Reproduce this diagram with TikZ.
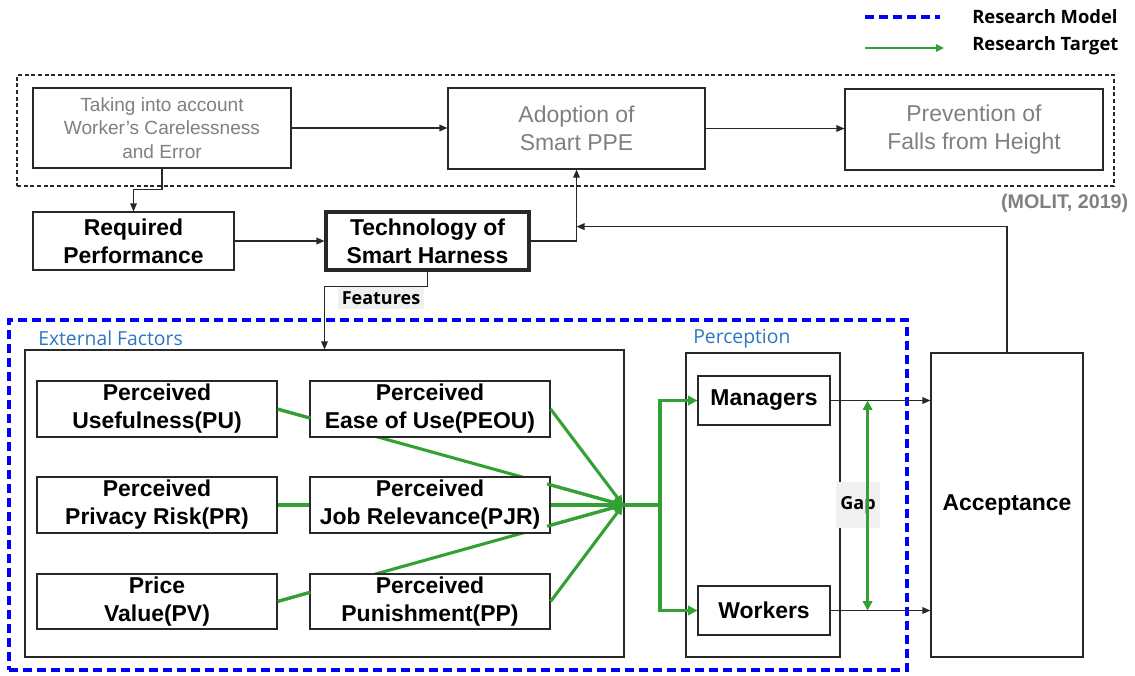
\documentclass[tikz,border=0pt]{standalone}
\usepackage{fontspec}
\setmainfont{Liberation Sans}
\newfontfamily\labfont{Open Sans}
\usetikzlibrary{arrows.meta,fit,calc}
\definecolor{gtext}{RGB}{128,128,128}
\definecolor{lblue}{RGB}{46,117,190}
\definecolor{mblue}{RGB}{0,0,255}
\definecolor{tgreen}{RGB}{50,160,50}
\definecolor{lineblk}{RGB}{40,40,40}
\begin{document}
\begin{tikzpicture}[x=0.75pt,y=-0.75pt,
  box/.style={draw=lineblk, line width=0.9pt, fill=white, inner sep=0pt, align=center},
  sz/.style n args={2}{minimum width=#1*0.75pt, minimum height=#2*0.75pt},
  frame/.style={draw=lineblk, line width=0.8pt, dash pattern=on 3pt off 2pt, inner sep=0pt},
  bluefr/.style={draw=mblue, line width=2.3pt, dash pattern=on 7pt off 3.5pt, inner sep=0pt},
  arr/.style={draw=lineblk, line width=0.9pt, -{Triangle[length=6pt,width=5pt]}},
  gline/.style={draw=tgreen, line width=2.3pt},
  garr/.style={gline, -{Triangle[length=7pt,width=7pt]}},
  bigb/.style={font=\fontsize{17.2}{21}\selectfont\bfseries},
  graysm/.style={font=\fontsize{14.3}{17.4}\selectfont, text=gtext},
  graylg/.style={font=\fontsize{17.2}{21}\selectfont, text=gtext},
  legtxt/.style={font=\labfont\fontsize{13.8}{15}\selectfont\bfseries, inner sep=0pt},
  grouplab/.style={font=\labfont\fontsize{14.5}{16}\selectfont, text=lblue, inner sep=0pt},
  tag/.style={font=\labfont\fontsize{13.5}{15}\selectfont\bfseries, fill=black!6, inner sep=3pt}
]
\useasboundingbox (0,0) rectangle (1135,675);

% legend
\coordinate (lm1) at (865,17);
\coordinate (lm2) at (940,17);
\draw[bluefr] (lm1) -- (lm2);
\node[legtxt, anchor=west] (lmt) at (972,17) {Research Model};
\coordinate (lt1) at (865,48);
\coordinate (lt2) at (944,48);
\draw[draw=tgreen, line width=1.6pt, -{Triangle[length=6pt,width=5.5pt]}] (lt1) -- (lt2);
\node[legtxt, anchor=west] (ltt) at (972,46) {Research Target};

% regulation chain (MOLIT)
\node[frame, fit={(17,75) (1114,186)}] (molitfr) {};
\node[box, graysm, sz={258}{80}] (take) at (162,128) {Taking into account\\Worker’s Carelessness\\and Error};
\node[box, graylg, sz={257}{81}] (adopt) at (576.5,128.5) {Adoption of\\Smart PPE};
\node[box, graylg, sz={258}{81}] (prev) at (974,129.5) {Prevention of\\Falls from Height};
\node[anchor=east, font=\fontsize{14.8}{16}\selectfont\bfseries, text=gtext] (molit) at (1133,203) {(MOLIT, 2019)};

\draw[arr] (take.east) -- (take.east -| adopt.west);
\draw[arr] (adopt.east) -- (adopt.east -| prev.west);

% harness technology
\node[box, bigb, sz={201}{58}] (req) at (133.5,241) {Required\\Performance};
\node[box, bigb, line width=2.3pt, sz={203}{58}] (tech) at (427.5,241) {Technology of\\Smart Harness};
\draw[arr] (take.south) -- ++(0,21) -| (req.north);
\draw[arr] (req.east) -- (tech.west);
\draw[arr] (tech.east) -| (adopt.south);

% research model frame
\node[bluefr, fit={(9,320) (907,670)}] (model) {};
\node[grouplab, anchor=west] (extlab) at (38,338) {External Factors};
\node[grouplab, anchor=west] (perclab) at (693,339) {Perception};

\node[box, sz={599}{307}] (ext) at (324.5,503.5) {};
\node[box, sz={154}{304}] (perc) at (763,505) {};
\node[box, bigb, sz={152}{304}] (acc) at (1007,505) {Acceptance};

\draw[arr] (tech.south) -- ++(0,15) -| (ext.north);
\node[tag] (feat) at (381,298) {Features};

\coordinate (fb) at ($(adopt.south)+(0,57)$);
\draw[arr] (acc.north) |- (fb);

% external factors
\coordinate (P) at (623,505);
\coordinate (pu) at (277,409);
\coordinate (pr) at (277,505);
\coordinate (pv) at (277,601.5);
\draw[garr] (pu) -- (P);
\draw[garr] (pr) -- (P);
\draw[garr] (pv) -- (P);

\node[box, bigb, sz={240}{56}] (PU) at (157,409) {Perceived\\Usefulness(PU)};
\node[box, bigb, sz={240}{56}] (PEOU) at (430,409) {Perceived\\Ease of Use(PEOU)};
\node[box, bigb, sz={240}{56}] (PR) at (157,505) {Perceived\\Privacy Risk(PR)};
\node[box, bigb, sz={240}{56}] (PJR) at (430,505) {Perceived\\Job Relevance(PJR)};
\node[box, bigb, sz={240}{55}] (PV) at (157,601.5) {Price\\Value(PV)};
\node[box, bigb, sz={240}{55}] (PP) at (430,601.5) {Perceived\\Punishment(PP)};

\draw[garr] (PEOU.east) -- (P);
\draw[garr] (PP.east) -- (P);
\draw[gline] (PU.east) -- ($(PU.east)!0.095!(P)$);
\draw[gline] (PR.east) -- (PJR.west);
\draw[gline] (PV.east) -- ($(PV.east)!0.095!(P)$);
\draw[gline] ($(PU.east)!0.78!(P)$) -- (P);
\draw[gline] (PJR.east) -- (P);
\draw[gline] ($(PV.east)!0.78!(P)$) -- (P);

% perception
\node[box, bigb, sz={132}{49}] (man) at (764,400.5) {Managers};
\node[box, bigb, sz={132}{49}] (work) at (764,610.5) {Workers};
\coordinate (J) at (660,505);
\draw[gline] (P) -- (J);
\draw[garr] (J) |- (man.west);
\draw[garr] (J) |- (work.west);

\draw[arr] (man.east) -- (man.east -| acc.west);
\draw[arr] (work.east) -- (work.east -| acc.west);

\node[tag, minimum width=33pt, minimum height=34pt] (gap) at (858,505) {Gap};
\coordinate (gt) at ($(man.east)+(37,0)$);
\coordinate (gb) at ($(work.east)+(37,0)$);
\draw[gline, {Triangle[length=7pt,width=7pt]}-{Triangle[length=7pt,width=7pt]}] (gt) -- (gb);
\end{tikzpicture}
\end{document}
